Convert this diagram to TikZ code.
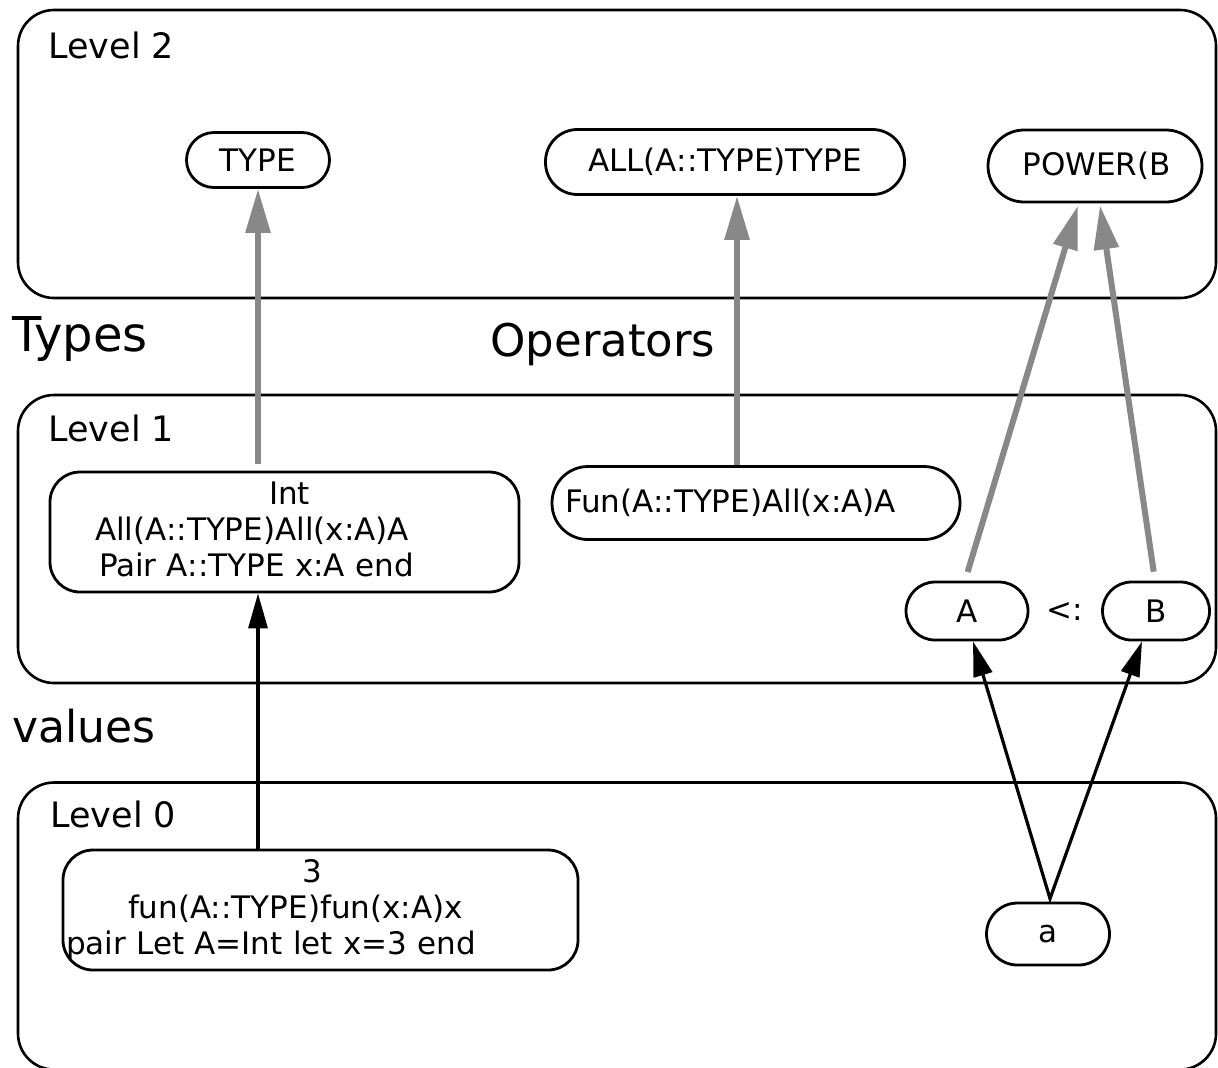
\documentclass[tikz,border=0pt]{standalone}
\usepackage{fontspec}
\setmainfont{DejaVu Sans}
\usetikzlibrary{arrows.meta}
\definecolor{arrgray}{RGB}{136,136,136}
\newcommand{\ndfont}{\fontsize{15.5}{18}\selectfont}
\newcommand{\lvfont}{\fontsize{17.5}{21}\selectfont}
\newcommand{\bigfont}{\fontsize{22.5}{27}\selectfont}
\tikzset{
  lvlbox/.style={draw, line width=1.3pt, rounded corners=18pt, inner sep=0pt},
  lvlabel/.style={font=\lvfont, anchor=base west, inner sep=0pt},
  biglabel/.style={font=\bigfont, anchor=base west, inner sep=0pt},
  nd/.style={draw, line width=1.4pt, font=\ndfont, inner sep=1.5pt},
  garrow/.style={draw=arrgray, line width=3pt, -{Triangle[length=22pt,width=12pt]}},
  barrow/.style={draw=black, line width=1.6pt, -{Triangle[length=17.5pt,width=9.5pt]}},
  bbarrow/.style={draw=black, line width=1.6pt, line join=miter, {Triangle[length=17.5pt,width=9.5pt]}-{Triangle[length=17.5pt,width=9.5pt]}},
}
\begin{document}
\begin{tikzpicture}[x=0.5pt,y=-0.5pt]
\useasboundingbox (0,0) rectangle (1218,1067);

% level boxes
\node[lvlbox, minimum width=599pt, minimum height=144pt] (L2) at (617,154) {};
\node[lvlbox, minimum width=599pt, minimum height=144pt] (L1) at (617,539) {};
\node[lvlbox, minimum width=599pt, minimum height=143.5pt] (L0) at (617,926) {};

\node[lvlabel] (L2t) at (48,58) {Level 2};
\node[lvlabel] (L1t) at (48,441) {Level 1};
\node[lvlabel] (L0t) at (50,827) {Level 0};

\node[biglabel, font=\fontsize{24}{28}\selectfont] (types) at (12,351) {Types};
\node[biglabel] (ops) at (490,356) {Operators};
\node[biglabel, font=\fontsize{22}{27}\selectfont] (vals) at (12,742) {values};

% level 2 nodes
\node[nd, minimum width=71.5pt, minimum height=27.5pt, rounded corners=13.75pt] (TYPE) at (258,160) {TYPE};
\node[nd, minimum width=179.5pt, minimum height=32.5pt, rounded corners=16pt] (ALL) at (725,162) {ALL(A::TYPE)TYPE};
\node[nd, minimum width=107pt, minimum height=36pt, rounded corners=18pt] (POW) at (1095,166) {};
\begin{scope}
  \clip (1000,140) rectangle (1171,195);
  \node[font=\ndfont, anchor=west, inner sep=0pt] (POWt) at (1022,166) {POWER(B)};
\end{scope}

% level 1 nodes
\node[nd, minimum height=60pt, rounded corners=15pt, text width=231.5pt, align=left] (Int) at (284.5,532) {\hspace*{108pt}Int\\\hspace*{21pt}All(A::TYPE)All(x:A)A\\\hspace*{23pt}Pair A::TYPE x:A end\vspace*{3pt}};
\node[nd, minimum height=36.5pt, rounded corners=18pt, inner xsep=6.5pt, text width=191pt, align=left] (Fun) at (756,503) {Fun(A::TYPE)All(x:A)A};
\node[nd, minimum width=61pt, minimum height=29pt, rounded corners=14.5pt] (A) at (967,611) {A};
\node[font=\ndfont] (sub) at (1065,611) {<:};
\node[nd, minimum width=53.5pt, minimum height=29pt, rounded corners=14.5pt] (B) at (1156,611) {B};

% level 0 nodes
\node[nd, minimum height=60pt, rounded corners=15pt, text width=254.5pt, align=left] (val) at (320.5,910) {\hspace*{118pt}3\\\hspace*{31pt}fun(A::TYPE)fun(x:A)x\\pair Let A=Int let x=3 end};
\node[nd, minimum width=61.5pt, minimum height=31pt, rounded corners=15.5pt] (a) at (1048,934) {a};
\coordinate (apex) at ([xshift=1pt,yshift=1.5pt]a.north);

% gray arrows
\draw[garrow, shorten <=3.5pt] (Int.north -| TYPE.south) -- (TYPE.south);
\draw[garrow] ([xshift=-9.5pt]Fun.north) -- ([xshift=-9.5pt]Fun.north |- ALL.south);
\draw[garrow, shorten <=4.5pt] ([xshift=-1pt]A.north) -- ([xshift=-8.5pt,yshift=-1pt]POW.south);
\draw[garrow, shorten <=4.5pt] ([xshift=-0.5pt]B.north) -- ([xshift=2.5pt,yshift=-1pt]POW.south);

% black arrows
\draw[barrow] (val.north -| TYPE.south) -- (Int.south -| TYPE.south);
\draw[bbarrow] ([xshift=3pt]A.south) -- (apex) -- ([xshift=-7pt]B.south);
\end{tikzpicture}
\end{document}
